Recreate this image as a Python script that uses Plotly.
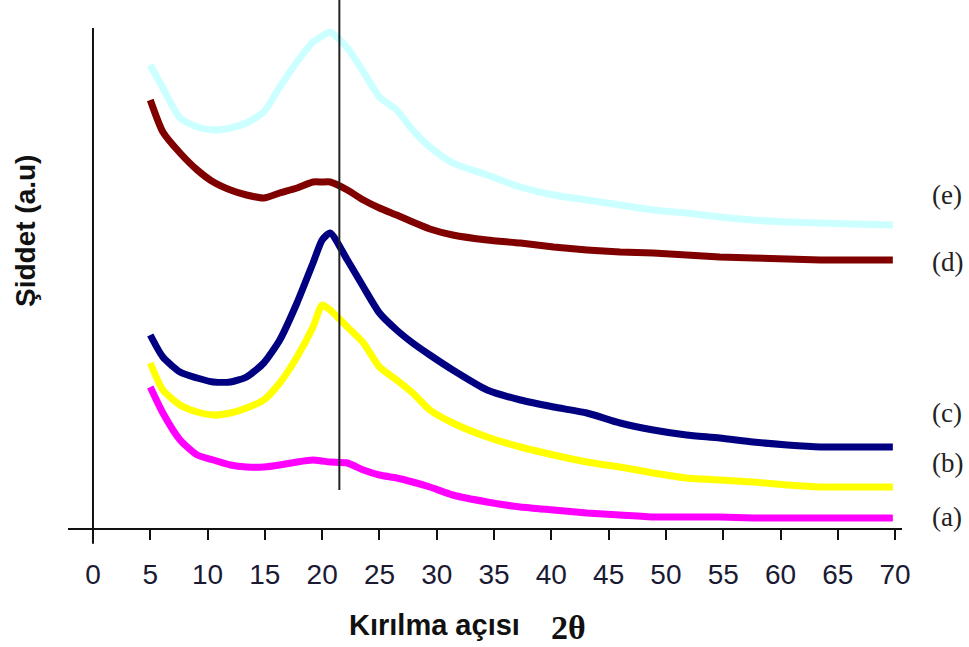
import plotly.graph_objects as go

# 2-theta sample positions (degrees)
two_theta = [5.0, 6.1, 7.6, 9.1, 10.5, 12.0, 13.4, 14.9, 16.3, 17.8, 19.2, 20.0, 20.7,
             22.2, 23.6, 25.0, 26.5, 27.9, 29.4, 31.4, 34.4, 37.3, 40.2, 43.1, 46.0,
             48.9, 51.8, 54.7, 57.6, 60.6, 63.5, 66.3, 69.8]

# intensities (a.u.)
series_a = [141, 115, 88, 73, 68, 63, 61, 61, 63, 66, 68, 67, 66, 65, 58, 53, 50, 46, 41,
            33, 26, 21, 18, 15, 13, 11, 11, 11, 10, 10, 10, 10, 10]
series_b = [165, 138, 123, 116, 113, 115, 120, 128, 145, 171, 201, 223, 218, 201, 185, 161,
            148, 135, 118, 105, 91, 81, 73, 66, 61, 55, 50, 48, 46, 43, 41, 41, 41]
series_c = [193, 171, 156, 150, 146, 146, 151, 165, 188, 225, 265, 288, 295, 268, 241, 215,
            198, 185, 173, 158, 138, 128, 121, 115, 105, 98, 93, 90, 86, 83, 81, 81, 81]
series_d = [428, 396, 375, 358, 346, 338, 333, 330, 335, 340, 346, 346, 346, 338, 328, 320,
            313, 306, 299, 293, 288, 285, 281, 278, 276, 275, 273, 271, 270, 269, 268, 268, 268]
series_e = [463, 440, 410, 401, 398, 400, 405, 416, 441, 466, 486, 492, 496, 480, 456, 431,
            418, 398, 381, 365, 353, 341, 333, 328, 323, 318, 315, 311, 308, 306, 305, 304, 303]

series_names = ["(a)", "(b)", "(c)", "(d)", "(e)"]
series_colors = ["#FF00FF", "#FFFF00", "#000080", "#800000", "#CCFFFF"]
label_y = [11, 65, 115, 266, 333]

x_ticks = list(range(0, 71, 5))
ref_line_x = 21.5

PL, PR, PB = 68, 902, 528   # plot-area pixel edges
PW, PH = PR - PL, PB

fig = go.Figure()
for name, ys, col in zip(series_names, [series_a, series_b, series_c, series_d, series_e], series_colors):
    fig.add_trace(go.Scatter(x=two_theta, y=ys, mode="lines", name=name,
                             line=dict(color=col, width=7, shape="spline", smoothing=0.6),
                             showlegend=False, hoverinfo="skip"))

for name, ly in zip(series_names, label_y):
    fig.add_annotation(x=(947 - PL) / PW, y=ly, xref="paper", yref="y", text=name, showarrow=False,
                       font=dict(family="Liberation Serif, Times New Roman, serif", size=27, color="#222"),
                       xanchor="center", yanchor="middle")

# vertical reference lines
fig.add_shape(type="line", xref="x", yref="paper", x0=0, x1=0, y0=-0.03, y1=(PB - 28) / PH,
              line=dict(color="#111", width=2))
fig.add_shape(type="line", xref="x", yref="y", x0=ref_line_x, x1=ref_line_x, y0=38, y1=540,
              line=dict(color="#222", width=2))

# axis titles
fig.add_annotation(xref="paper", yref="paper", x=(434 - PL) / PW, y=-(625 - PB) / PH,
                   text="<b>Kırılma açısı</b>", showarrow=False, xanchor="center", yanchor="middle",
                   font=dict(family="Liberation Sans, Arial, sans-serif", size=29, color="#111"))
fig.add_annotation(xref="paper", yref="paper", x=(568 - PL) / PW, y=-(627 - PB) / PH,
                   text="<b>2θ</b>", showarrow=False, xanchor="center", yanchor="middle",
                   font=dict(family="Liberation Serif, Times New Roman, serif", size=34, color="#111"))
fig.add_annotation(xref="paper", yref="paper", x=-(PL - 25) / PW, y=(PB - 231) / PH,
                   text="<b>Şiddet (a.u)</b>", showarrow=False, textangle=-90,
                   xanchor="center", yanchor="middle",
                   font=dict(family="Liberation Sans, Arial, sans-serif", size=28, color="#111"))

fig.update_layout(
    width=969, height=647,
    margin=dict(l=PL, r=969 - PR, t=0, b=647 - PB),
    paper_bgcolor="white", plot_bgcolor="white",
    xaxis=dict(range=[-2.18, 70.6], tickvals=x_ticks, ticktext=[str(t) for t in x_ticks],
               showgrid=False, zeroline=False, showline=True, linecolor="#111", linewidth=2,
               ticks="outside", ticklen=10, tickwidth=2, tickcolor="#111",
               ticklabelstandoff=10,
               tickfont=dict(family="Liberation Sans Narrow, Arial Narrow, Liberation Sans, sans-serif",
                             size=28, color="#1a1a33")),
    yaxis=dict(range=[0, 528], showgrid=False, zeroline=False, showline=False,
               showticklabels=False, ticks=""),
)

fig.write_html("out.html")
